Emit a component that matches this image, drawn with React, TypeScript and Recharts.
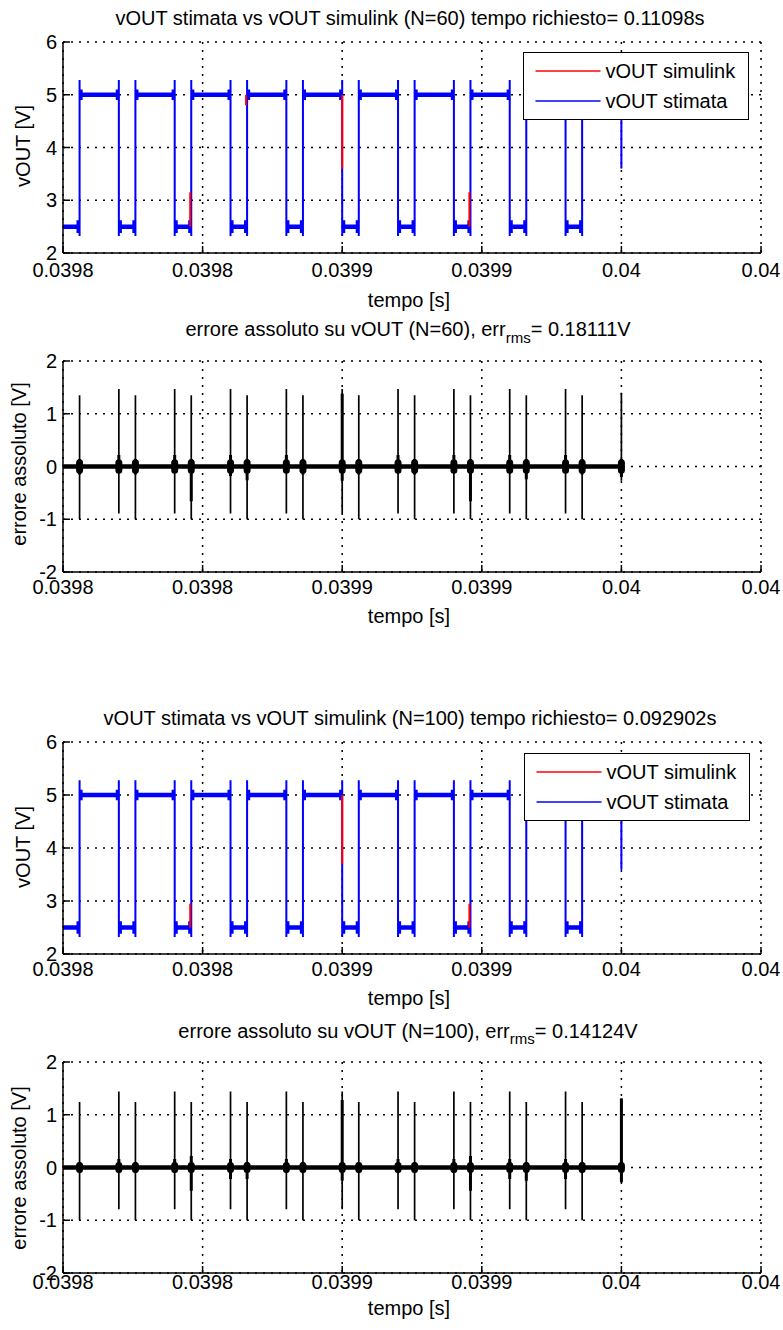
import React from 'react';
import { LineChart, Line, XAxis, YAxis, CartesianGrid, Legend } from 'recharts';

const FONT = '"Liberation Sans", Arial, Helvetica, sans-serif';

// ---------- axes ----------
const T_START = 0.0398;
const T_END = 0.04;
const xTicks = [0.0398, 0.03984, 0.03988, 0.03992, 0.03996, 0.04];
const xTickLabels = ['0.0398', '0.0398', '0.0399', '0.0399', '0.04', '0.04'];
const voutTicks = [2, 3, 4, 5, 6];
const errTicks = [-2, -1, 0, 1, 2];

// ---------- switching edges (s) ----------
const riseTimes = [0.03980475, 0.03982075, 0.03983675, 0.03985275, 0.03986875, 0.03988475, 0.03990075, 0.03991675, 0.03993275, 0.03994875];
const fallTimes = [0.039816, 0.039832, 0.039848, 0.039864, 0.03988, 0.039896, 0.039912, 0.039928, 0.039944, 0.03996];

// ---------- vOUT levels (V) ----------
const vHigh = 5.0;
const vLow = 2.5;
const vPeak = 5.28;
const vTrough = 2.32;
const rippleHigh = 0.1;
const rippleLow = 0.12;
const rippleDt = 0.45e-6;
const vEnd60 = 3.6;
const vEnd100 = 3.59;

// ---------- vOUT simulink samples that differ from the estimate ----------
const glitchT60 = [0.03983645, 0.03985245, 0.03988, 0.03991645];
const glitchFrom60 = [2.5, 4.8, 5.0, 2.5];
const glitchTo60 = [3.15, 5.0, 3.6, 3.15];
const glitchT100 = [0.03983645, 0.03988, 0.03991645];
const glitchFrom100 = [2.5, 5.0, 2.5];
const glitchTo100 = [2.95, 3.7, 2.95];

// ---------- absolute error (V), one value per edge: R1,F1,R2,F2,...,R10,F10 ----------
const errTop60 = [1.35, 1.47, 1.35, 1.47, 1.35, 1.47, 1.35, 1.47, 1.35, 1.47, 1.35, 1.47, 1.35, 1.47, 1.35, 1.47, 1.35, 1.47, 1.35, 1.40];
const errBot60 = [-1.0, -0.89, -1.0, -0.89, -1.0, -0.89, -1.0, -0.89, -1.0, -0.89, -1.0, -0.89, -1.0, -0.89, -1.0, -0.89, -1.0, -0.89, -1.0, -0.27];
const errThickTop60 = [0.14, 0.22, 0.14, 0.22, 0.14, 0.22, 0.14, 0.22, 0.14, 1.38, 0.14, 0.22, 0.14, 0.22, 0.14, 0.22, 0.14, 0.22, 0.14, 0.14];
const errThickBot60 = [-0.15, -0.11, -0.15, -0.11, -0.66, -0.18, -0.26, -0.11, -0.15, -0.27, -0.15, -0.11, -0.15, -0.11, -0.66, -0.11, -0.24, -0.11, -0.15, -0.2];
const errBlob60 = 0.07;

const errTop100 = [1.24, 1.44, 1.24, 1.44, 1.24, 1.44, 1.24, 1.44, 1.24, 1.44, 1.24, 1.44, 1.24, 1.44, 1.24, 1.44, 1.24, 1.44, 1.24, 1.31];
const errBot100 = [-1.0, -0.79, -1.0, -0.79, -1.0, -0.79, -1.0, -0.79, -1.0, -0.79, -1.0, -0.79, -1.0, -0.79, -1.0, -0.79, -1.0, -0.79, -1.0, -0.28];
const errThickTop100 = [0.1, 0.16, 0.1, 0.16, 0.22, 0.16, 0.1, 0.16, 0.1, 1.28, 0.1, 0.16, 0.1, 0.16, 0.22, 0.16, 0.1, 0.16, 0.1, 1.31];
const errThickBot100 = [-0.1, -0.1, -0.1, -0.1, -0.44, -0.22, -0.22, -0.1, -0.1, -0.25, -0.1, -0.1, -0.1, -0.1, -0.44, -0.22, -0.25, -0.22, -0.1, -0.28];
const errBlob100 = 0.04;

// ---------- series builders ----------
type Pt = { t: number; v: number | null };
const gap = (t: number): Pt => ({ t, v: null });
const edgeTimes = riseTimes.flatMap((r, i) => [r, fallTimes[i]]);
const lastIdx = riseTimes.length - 1;

function waveStimata(vEnd: number): Pt[] {
  const pts: Pt[] = [{ t: T_START, v: vLow }];
  riseTimes.forEach((r, i) => {
    const f = fallTimes[i];
    const last = i === lastIdx;
    pts.push({ t: r, v: vLow }, { t: r, v: vTrough }, { t: r, v: vPeak }, { t: r, v: vHigh });
    pts.push({ t: f, v: vHigh }, { t: f, v: vPeak }, { t: f, v: last ? vEnd : vTrough });
    if (!last) pts.push({ t: f, v: vLow });
  });
  return pts;
}

function waveSimulink(vEnd: number): Pt[] {
  const pts: Pt[] = [{ t: T_START, v: vLow }];
  riseTimes.forEach((r, i) => {
    const f = fallTimes[i];
    pts.push({ t: r, v: vLow }, { t: r, v: vHigh }, { t: f, v: vHigh }, { t: f, v: i === lastIdx ? vEnd : vLow });
  });
  return pts;
}

function plateauBand(): Pt[] {
  const pts: Pt[] = [{ t: T_START, v: vLow }];
  riseTimes.forEach((r, i) => {
    const f = fallTimes[i];
    pts.push({ t: r, v: vLow }, gap(r), { t: r, v: vHigh }, { t: f, v: vHigh }, gap(f));
    if (i < lastIdx) pts.push({ t: f, v: vLow });
  });
  return pts;
}

function rippleMarks(): Pt[] {
  const pts: Pt[] = [];
  const seg = (t: number, c: number, a: number) => pts.push({ t, v: c - a }, { t, v: c + a }, gap(t));
  riseTimes.forEach((r, i) => {
    const f = fallTimes[i];
    seg(r - rippleDt, vLow, rippleLow);
    seg(r + rippleDt, vHigh, rippleHigh);
    seg(f - rippleDt, vHigh, rippleHigh);
    if (i < lastIdx) seg(f + rippleDt, vLow, rippleLow);
  });
  return pts;
}

function glitches(ts: number[], from: number[], to: number[]): Pt[] {
  const pts: Pt[] = [];
  ts.forEach((t, i) => pts.push({ t, v: from[i] }, { t, v: to[i] }, gap(t)));
  return pts;
}

function errTrace(top: number[], bot: number[]): Pt[] {
  const pts: Pt[] = [{ t: T_START, v: 0 }];
  edgeTimes.forEach((t, i) => {
    pts.push({ t, v: 0 }, { t, v: top[i] }, { t, v: bot[i] });
    if (i < edgeTimes.length - 1) pts.push({ t, v: 0 });
  });
  return pts;
}

function errSegments(top: number[], bot: number[]): Pt[] {
  const pts: Pt[] = [];
  edgeTimes.forEach((t, i) => pts.push({ t, v: top[i] }, { t, v: bot[i] }, gap(t)));
  return pts;
}

function errBlobs(h: number): Pt[] {
  const pts: Pt[] = [];
  edgeTimes.forEach((t) => pts.push({ t, v: h }, { t, v: -h }, gap(t)));
  return pts;
}

const errBaseline: Pt[] = [{ t: T_START, v: 0 }, { t: fallTimes[lastIdx], v: 0 }];

type Series = { key: string; data: Pt[]; stroke: string; width: number; name?: string; round?: boolean };

const RED = '#ff0000';
const BLUE = '#0000ff';
const BLACK = '#000000';

function voutSeries(vEnd: number, gt: number[], gf: number[], gto: number[]): Series[] {
  return [
    { key: 'sim', data: waveSimulink(vEnd), stroke: RED, width: 0.8, name: 'vOUT simulink' },
    { key: 'band', data: plateauBand(), stroke: BLUE, width: 4.5 },
    { key: 'ripple', data: rippleMarks(), stroke: BLUE, width: 3 },
    { key: 'est', data: waveStimata(vEnd), stroke: BLUE, width: 2, name: 'vOUT stimata' },
    { key: 'glitch', data: glitches(gt, gf, gto), stroke: RED, width: 2 },
  ];
}

function errSeries(top: number[], bot: number[], tt: number[], tb: number[], blob: number): Series[] {
  return [
    { key: 'base', data: errBaseline, stroke: BLACK, width: 4.5 },
    { key: 'blob', data: errBlobs(blob), stroke: BLACK, width: 7, round: true },
    { key: 'thick', data: errSegments(tt, tb), stroke: BLACK, width: 3 },
    { key: 'err', data: errTrace(top, bot), stroke: BLACK, width: 1.7 },
  ];
}

// ---------- legend ----------
const LegendBox = (props: any) => {
  const items = (props.payload || []).filter((e: any) => e.type !== 'none');
  return (
    <div style={{ width: 226, height: 68, boxSizing: 'border-box', border: '1.5px solid #000', background: '#fff' }}>
      <svg width={223} height={65} style={{ display: 'block' }}>
        {items.map((e: any, i: number) => (
          <g key={i}>
            <line x1={11.5} x2={76.5} y1={18 + 30 * i} y2={18 + 30 * i} stroke={e.color} strokeWidth={1.6} />
            <text x={81.5} y={25 + 30 * i} fontFamily={FONT} fontSize={20} fill="#000">{e.value}</text>
          </g>
        ))}
      </svg>
    </div>
  );
};

// ---------- panel ----------
const axisStyle = { stroke: '#000', strokeWidth: 1.5 };
const tickStyle = { fill: '#000', fontSize: 20, fontFamily: FONT };
const fmtX = (v: number) => {
  const i = xTicks.indexOf(v);
  return i >= 0 ? xTickLabels[i] : String(v);
};
const blank = () => '';

type PanelProps = {
  top: number; height: number; marginTop: number; xAxisHeight: number; tickMargin: number;
  yTicks: number[]; yDomain: [number, number]; series: Series[]; legendPos?: { left: number; top: number };
};

function Panel(p: PanelProps) {
  return (
    <div style={{ position: 'absolute', left: 0, top: p.top }}>
      <LineChart width={783} height={p.height} margin={{ top: p.marginTop, right: 22, bottom: 0, left: 0 }}>
        <CartesianGrid stroke="#000" strokeDasharray="2 6" strokeWidth={1.5} />
        <XAxis xAxisId={0} dataKey="t" type="number" domain={[T_START, T_END]} ticks={xTicks} interval={0}
          allowDataOverflow height={p.xAxisHeight} tickSize={-7} tickMargin={p.tickMargin}
          tickFormatter={fmtX} tick={tickStyle} axisLine={axisStyle} tickLine={axisStyle} />
        <XAxis xAxisId="top" orientation="top" dataKey="t" type="number" domain={[T_START, T_END]} ticks={xTicks}
          interval={0} allowDataOverflow height={0} tickSize={-7} tickFormatter={blank} tick={tickStyle}
          axisLine={axisStyle} tickLine={axisStyle} />
        <YAxis yAxisId={0} type="number" domain={p.yDomain} ticks={p.yTicks} interval={0} allowDataOverflow
          width={63} tickSize={-7} tickMargin={13} tick={tickStyle} axisLine={axisStyle} tickLine={axisStyle} />
        <YAxis yAxisId="right" orientation="right" type="number" domain={p.yDomain} ticks={p.yTicks} interval={0}
          allowDataOverflow width={0} tickSize={-7} tickFormatter={blank} tick={tickStyle}
          axisLine={axisStyle} tickLine={axisStyle} />
        {p.series.map((s) => (
          <Line key={s.key} data={s.data} dataKey="v" name={s.name || s.key} stroke={s.stroke}
            strokeWidth={s.width} strokeLinecap={s.round ? 'round' : 'butt'} dot={false} activeDot={false}
            legendType={s.name ? 'line' : 'none'} isAnimationActive={false} connectNulls={false} type="linear" />
        ))}
        {p.legendPos && (
          <Legend layout="horizontal" verticalAlign="middle" align="center" content={LegendBox}
            wrapperStyle={{ left: p.legendPos.left, top: p.legendPos.top, width: 226, height: 68 }} />
        )}
      </LineChart>
    </div>
  );
}

// ---------- texts ----------
function Texts() {
  return (
    <svg width={783} height={1330} style={{ position: 'absolute', left: 0, top: 0, pointerEvents: 'none' }}
      fontFamily={FONT} fontSize={20} fill="#000">
      <text x={410} y={24.5} textAnchor="middle">vOUT stimata vs vOUT simulink (N=60) tempo richiesto= 0.11098s</text>
      <text x={409} y={306.5} textAnchor="middle">tempo [s]</text>
      <text x={29.8} y={146} textAnchor="middle" transform="rotate(-90 29.8 146)">vOUT [V]</text>

      <text x={408} y={336} textAnchor="middle">
        <tspan>errore assoluto su vOUT (N=60), err</tspan>
        <tspan fontSize={15} dy={7}>rms</tspan>
        <tspan dy={-7}>= 0.18111V</tspan>
      </text>
      <text x={409} y={622.5} textAnchor="middle">tempo [s]</text>
      <text x={25.8} y={464} textAnchor="middle" transform="rotate(-90 25.8 464)">errore assoluto [V]</text>

      <text x={410} y={724.5} textAnchor="middle">vOUT stimata vs vOUT simulink (N=100) tempo richiesto= 0.092902s</text>
      <text x={409} y={1005} textAnchor="middle">tempo [s]</text>
      <text x={29.8} y={847} textAnchor="middle" transform="rotate(-90 29.8 847)">vOUT [V]</text>

      <text x={408} y={1037.8} textAnchor="middle">
        <tspan>errore assoluto su vOUT (N=100), err</tspan>
        <tspan fontSize={15} dy={6.5}>rms</tspan>
        <tspan dy={-6.5}>= 0.14124V</tspan>
      </text>
      <text x={409} y={1314.5} textAnchor="middle">tempo [s]</text>
      <text x={25.8} y={1168} textAnchor="middle" transform="rotate(-90 25.8 1168)">errore assoluto [V]</text>
    </svg>
  );
}

export default function App() {
  return (
    <div style={{ position: 'absolute', left: 0, top: 0, width: 783, height: 1330, background: '#fff', overflow: 'hidden' }}>
      <Panel top={0} height={300} marginTop={42} xAxisHeight={47} tickMargin={17} yTicks={voutTicks} yDomain={[2, 6]}
        series={voutSeries(vEnd60, glitchT60, glitchFrom60, glitchTo60)} legendPos={{ left: 523, top: 52 }} />
      <Panel top={320} height={282} marginTop={41} xAxisHeight={30} tickMargin={15} yTicks={errTicks} yDomain={[-2, 2]}
        series={errSeries(errTop60, errBot60, errThickTop60, errThickBot60, errBlob60)} />
      <Panel top={700} height={284} marginTop={42} xAxisHeight={30} tickMargin={14.5} yTicks={voutTicks} yDomain={[2, 6]}
        series={voutSeries(vEnd100, glitchT100, glitchFrom100, glitchTo100)} legendPos={{ left: 524, top: 53 }} />
      <Panel top={1020} height={283} marginTop={42} xAxisHeight={30} tickMargin={9} yTicks={errTicks} yDomain={[-2, 2]}
        series={errSeries(errTop100, errBot100, errThickTop100, errThickBot100, errBlob100)} />
      <Texts />
    </div>
  );
}
